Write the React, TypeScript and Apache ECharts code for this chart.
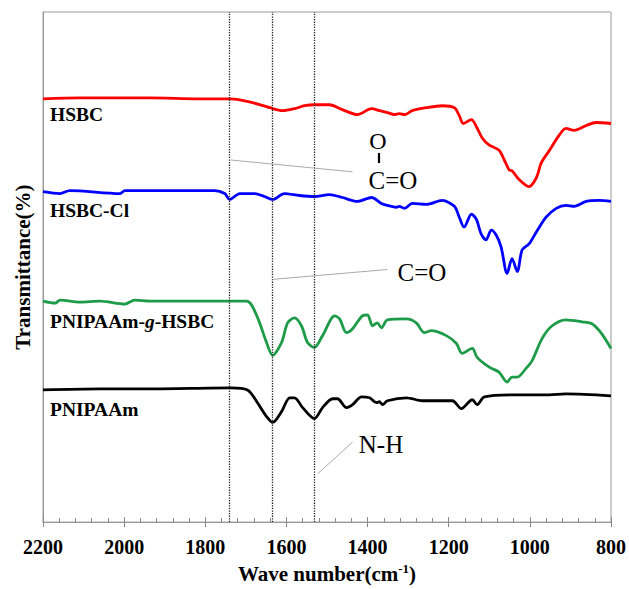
import React, { useEffect, useRef } from "react";
import * as echarts from "echarts";

// Wavenumbers (cm-1) and transmittance (offset, arbitrary %)
const hsbcWn = [2200, 2109, 1937, 1814, 1737, 1691, 1641, 1609, 1580, 1555, 1531, 1494, 1462, 1425, 1390, 1371, 1351, 1334, 1322, 1309, 1290, 1255, 1216, 1186, 1174, 1164, 1144, 1132, 1117, 1100, 1076, 1063, 1051, 1044, 1026, 1002, 984, 972, 953, 928, 911, 891, 861, 837, 800];
const hsbcT = [85.8, 86.0, 86.0, 85.8, 85.8, 85.2, 84.0, 83.4, 83.8, 84.4, 84.6, 84.6, 83.6, 82.6, 83.8, 83.4, 83.0, 82.6, 82.8, 82.6, 83.4, 84.0, 84.4, 84.0, 82.4, 80.8, 81.6, 80.2, 77.8, 76.4, 75.4, 73.4, 71.4, 71.2, 69.4, 68.0, 69.8, 72.8, 75.2, 78.4, 79.8, 79.4, 80.4, 81.0, 80.8];

const hsbcClWn = [2200, 2158, 2134, 2010, 1998, 1814, 1777, 1752, 1740, 1715, 1678, 1654, 1634, 1605, 1568, 1531, 1494, 1462, 1425, 1390, 1366, 1351, 1329, 1322, 1309, 1290, 1255, 1216, 1186, 1174, 1162, 1144, 1132, 1120, 1108, 1095, 1083, 1071, 1056, 1044, 1031, 1019, 1002, 984, 960, 935, 911, 891, 861, 829, 800];
const hsbcClT = [67.0, 66.6, 67.2, 66.6, 67.2, 67.2, 67.2, 66.6, 65.4, 66.6, 66.6, 66.0, 65.4, 66.6, 66.2, 66.0, 66.4, 65.8, 65.0, 65.8, 64.6, 64.2, 63.8, 64.0, 63.6, 64.6, 64.4, 65.2, 64.0, 61.8, 59.8, 62.4, 61.4, 58.4, 57.2, 59.2, 58.2, 55.8, 50.4, 53.4, 50.8, 55.2, 56.4, 58.8, 61.8, 63.6, 64.2, 64.0, 65.0, 65.2, 65.0];

const graftWn = [2200, 2170, 2158, 2109, 2060, 1998, 1974, 1937, 1814, 1698, 1673, 1649, 1634, 1612, 1597, 1580, 1563, 1548, 1531, 1511, 1481, 1469, 1452, 1437, 1413, 1400, 1388, 1376, 1366, 1351, 1304, 1280, 1260, 1243, 1206, 1181, 1167, 1142, 1130, 1100, 1076, 1056, 1044, 1031, 1009, 994, 970, 945, 911, 871, 847, 825, 800];
const graftT = [44.8, 44.4, 45.0, 44.6, 44.8, 44.2, 45.0, 44.8, 44.8, 44.8, 41.8, 36.4, 33.8, 36.4, 40.4, 41.4, 39.8, 36.4, 35.4, 37.8, 41.8, 41.2, 38.4, 39.2, 41.8, 42.0, 39.8, 40.4, 39.4, 41.0, 41.2, 40.4, 38.4, 38.8, 37.8, 36.2, 34.2, 35.2, 33.4, 31.4, 30.4, 28.4, 29.4, 29.4, 31.2, 32.8, 37.2, 39.8, 41.0, 40.6, 40.2, 38.4, 35.2];

const pnipaamWn = [2200, 2060, 1937, 1737, 1696, 1673, 1649, 1634, 1612, 1592, 1580, 1560, 1531, 1511, 1486, 1474, 1452, 1437, 1415, 1395, 1378, 1371, 1363, 1351, 1304, 1265, 1191, 1169, 1142, 1130, 1112, 1034, 953, 911, 800];
const pnipaamT = [26.8, 27.0, 27.0, 27.2, 26.8, 24.4, 21.4, 20.2, 22.4, 25.2, 25.2, 23.2, 21.0, 23.2, 25.0, 25.0, 23.2, 23.8, 25.4, 25.2, 24.2, 24.4, 23.8, 24.6, 25.2, 24.6, 24.6, 23.0, 24.8, 23.8, 25.4, 25.8, 25.8, 26.0, 25.6];

const peakLines = [1740, 1634, 1531];
const seriesNames = ["HSBC", "HSBC-Cl", "PNIPAAm-g-HSBC", "PNIPAAm"];
const seriesColors = ["#ff0000", "#0000ff", "#1e9b48", "#000000"];

const zip = (a: number[], b: number[]) => a.map((v, i) => [v, b[i]]);

const SERIF = "'Liberation Serif', 'Times New Roman', serif";

export default function App() {
  const ref = useRef<HTMLDivElement>(null);
  useEffect(() => {
    if (!ref.current) return;
    const chart = echarts.init(ref.current, null, { renderer: "svg" });
    const datasets = [zip(hsbcWn, hsbcT), zip(hsbcClWn, hsbcClT), zip(graftWn, graftT), zip(pnipaamWn, pnipaamT)];
    const series: any[] = datasets.map((d, i) => ({
      name: seriesNames[i],
      type: "line",
      data: d,
      showSymbol: false,
      smooth: 0.3,
      lineStyle: { color: seriesColors[i], width: 2.8 },
      itemStyle: { color: seriesColors[i] },
      z: 3,
    }));
    const grayLine = { type: "solid", color: "#aaaaaa", width: 1 };
    series.push({
      type: "line",
      data: [],
      silent: true,
      markLine: {
        silent: true,
        symbol: "none",
        label: { show: false },
        data: [
          ...peakLines.map((v) => ({ xAxis: v, lineStyle: { type: "dotted", color: "#222", width: 1.3 } })),
          [{ coord: [1737, 73.4], lineStyle: grayLine }, { coord: [1437, 71.0] }],
          [{ coord: [1634, 49.2], lineStyle: grayLine }, { coord: [1351, 51.2] }],
          [{ coord: [1523, 9.8], lineStyle: grayLine }, { coord: [1437, 16.2] }],
        ],
      },
    });
    const labelY = [115, 211, 322, 410];
    const labelTexts = ["HSBC", "HSBC-Cl", "PNIPAAm-{i|g}-HSBC", "PNIPAAm"];
    chart.setOption({
      animation: false,
      backgroundColor: "#ffffff",
      grid: { left: 43, right: 17, top: 12, bottom: 60, show: true, borderColor: "#999", borderWidth: 1 },
      xAxis: [
        {
          type: "value",
          min: 800,
          max: 2200,
          interval: 200,
          inverse: true,
          name: "Wave number(cm{sup|-1})",
          nameLocation: "middle",
          nameGap: 36,
          nameTextStyle: {
            fontFamily: SERIF,
            fontWeight: "bold",
            fontSize: 21,
            color: "#000",
            rich: {
              sup: { fontFamily: SERIF, fontWeight: "bold", fontSize: 13, color: "#000", verticalAlign: "top", padding: [0, 0, 10, 0] },
            },
          },
          axisLine: { lineStyle: { color: "#999", width: 1 } },
          axisTick: { inside: true, length: 5, lineStyle: { color: "#888" } },
          minorTick: { show: true, splitNumber: 5, length: 4, lineStyle: { color: "#888" } },
          axisLabel: { fontFamily: SERIF, fontWeight: "bold", fontSize: 20, color: "#000", margin: 15, formatter: (v: number) => String(v) },
          splitLine: { show: false },
        },
        {
          type: "value",
          min: 800,
          max: 2200,
          interval: 200,
          inverse: true,
          position: "bottom",
          axisLine: { show: false },
          axisTick: { inside: false, length: 5, lineStyle: { color: "#888" } },
          axisLabel: { show: false },
          splitLine: { show: false },
        },
      ],
      yAxis: {
        type: "value",
        min: 0,
        max: 103.4,
        name: "Transmittance(%)",
        nameLocation: "middle",
        nameGap: 10,
        nameTextStyle: { fontFamily: SERIF, fontWeight: "bold", fontSize: 21, color: "#000" },
        axisLine: { show: true, lineStyle: { color: "#999" } },
        axisTick: { show: false },
        axisLabel: { show: false },
        splitLine: { show: false },
      },
      series,
      graphic: [
        ...labelTexts.map((t, i) => ({
          type: "text",
          left: 50,
          top: labelY[i] - 11,
          z: 10,
          style: {
            text: t,
            fontFamily: SERIF,
            fontWeight: "bold",
            fontSize: 19.5,
            fill: "#000",
            rich: { i: { fontFamily: SERIF, fontWeight: "bold", fontStyle: "italic", fontSize: 19.5, fill: "#000" } },
          },
        })),
        { type: "text", x: 378, y: 141, z: 10, style: { text: "O", fontFamily: SERIF, fontSize: 24, fill: "#000", align: "center", verticalAlign: "middle" } },
        { type: "line", z: 10, shape: { x1: 379, y1: 153, x2: 379, y2: 163 }, style: { stroke: "#000", lineWidth: 2.2 } },
        { type: "text", x: 393, y: 180, z: 10, style: { text: "C=O", fontFamily: SERIF, fontSize: 25, fill: "#000", align: "center", verticalAlign: "middle" } },
        { type: "text", x: 422, y: 272, z: 10, style: { text: "C=O", fontFamily: SERIF, fontSize: 25, fill: "#000", align: "center", verticalAlign: "middle" } },
        { type: "text", x: 381, y: 444, z: 10, style: { text: "N-H", fontFamily: SERIF, fontSize: 25, fill: "#000", align: "center", verticalAlign: "middle" } },
      ],
    });
    return () => chart.dispose();
  }, []);
  return <div ref={ref} style={{ width: 629, height: 589, position: "absolute", left: 0, top: 0 }} />;
}
